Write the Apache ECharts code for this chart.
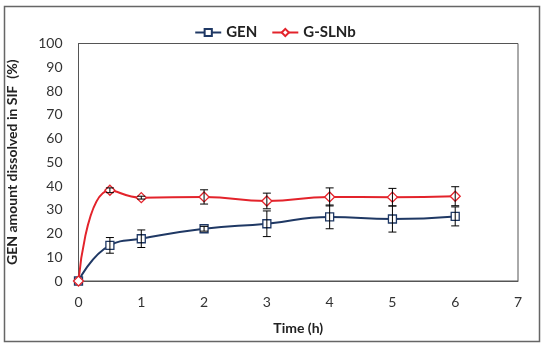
<!DOCTYPE html>
<html><head><meta charset="utf-8">
<script src="https://cdn.jsdelivr.net/npm/echarts@6/dist/echarts.min.js"></script>
<style>html,body{margin:0;padding:0;background:#fff}#c{width:550px;height:350px}</style>
</head><body><div id="c"></div>
<script>
const time = [0, 0.5, 1, 2, 3, 4, 5, 6];
const genValues = [0, 15.0, 17.8, 22.0, 24.1, 27.0, 26.1, 27.2];
const genErrors = [0, 3.3, 3.7, 1.0, 5.4, 5.0, 5.5, 4.0];
const slnValues = [0, 38.2, 35.1, 35.4, 33.7, 35.4, 35.3, 35.7];
const slnErrors = [0, 1.0, 0.6, 3.0, 3.3, 3.8, 3.7, 4.0];
const seriesNames = ['GEN', 'G-SLNb'];
const xTicks = [0, 1, 2, 3, 4, 5, 6, 7];
const yTicks = [0, 10, 20, 30, 40, 50, 60, 70, 80, 90, 100];

const navy = '#1f3864', red = '#e3232b';
const font = 'Lato, "Open Sans", sans-serif';

function errData(vals, errs) {
  return time.map((t, i) => [t, vals[i] - errs[i], vals[i] + errs[i]]);
}
function errRender(params, api) {
  const x = api.value(0);
  const lo = api.coord([x, api.value(1)]);
  const hi = api.coord([x, api.value(2)]);
  if (Math.abs(lo[1] - hi[1]) < 0.5) return null;
  const w = 4;
  const st = { stroke: '#000', lineWidth: 1 };
  return { type: 'group', children: [
    { type: 'line', shape: { x1: lo[0], y1: lo[1], x2: hi[0], y2: hi[1] }, style: st },
    { type: 'line', shape: { x1: lo[0] - w, y1: lo[1], x2: lo[0] + w, y2: lo[1] }, style: st },
    { type: 'line', shape: { x1: hi[0] - w, y1: hi[1], x2: hi[0] + w, y2: hi[1] }, style: st }
  ]};
}

const chart = echarts.init(document.getElementById('c'));
chart.setOption({
  animation: false,
  backgroundColor: '#fff',
  graphic: [{
    type: 'rect', shape: { x: 4.5, y: 6.5, width: 535, height: 335 },
    style: { fill: 'none', stroke: '#666', lineWidth: 1.5 }, z: 100, silent: true
  }],
  legend: {
    data: seriesNames,
    top: 20, left: 'center',
    itemWidth: 26, itemHeight: 9, itemGap: 14,
    textStyle: { fontFamily: font, fontWeight: 'bold', fontSize: 15, color: '#222' }
  },
  grid: { left: 78.5, right: 32, top: 43.5, bottom: 69, show: true, borderColor: '#555', borderWidth: 1,
    containLabel: false, outerBoundsMode: 'none' },
  xAxis: {
    type: 'value', min: 0, max: 7, interval: 1,
    name: 'Time (h)', nameLocation: 'middle', nameGap: 40,
    nameTextStyle: { fontFamily: font, fontWeight: 'bold', fontSize: 14, color: '#222' },
    axisLine: { show: true, lineStyle: { color: '#555' } },
    axisTick: { show: false },
    splitLine: { show: false },
    axisLabel: { fontFamily: font, fontSize: 14, color: '#333', margin: 14,
      formatter: v => xTicks.includes(v) ? String(v) : '' }
  },
  yAxis: {
    type: 'value', min: 0, max: 100, interval: 10,
    name: 'GEN amount dissolved in SIF  (%)', nameLocation: 'middle', nameGap: 59, nameRotate: 90,
    nameTextStyle: { fontFamily: font, fontWeight: 'bold', fontSize: 14, color: '#222' },
    axisLine: { show: true, lineStyle: { color: '#555' } },
    axisTick: { show: false },
    splitLine: { show: false },
    axisLabel: { fontFamily: font, fontSize: 14, color: '#333', margin: 16,
      formatter: v => yTicks.includes(v) ? String(v) : '' }
  },
  series: [
    {
      name: seriesNames[0], type: 'line', smooth: 0.5,
      data: time.map((t, i) => [t, genValues[i]]),
      symbol: 'rect', symbolSize: 8, showAllSymbol: true,
      lineStyle: { color: navy, width: 2 },
      itemStyle: { color: '#fff', borderColor: navy, borderWidth: 1.3 },
      z: 3
    },
    {
      name: seriesNames[1], type: 'line', smooth: 0.5,
      data: time.map((t, i) => [t, slnValues[i]]),
      symbol: 'diamond', symbolSize: 10, showAllSymbol: true,
      lineStyle: { color: red, width: 2 },
      itemStyle: { color: '#fff', borderColor: red, borderWidth: 1.3 },
      z: 3
    },
    { type: 'custom', renderItem: errRender, data: errData(genValues, genErrors), z: 5, silent: true },
    { type: 'custom', renderItem: errRender, data: errData(slnValues, slnErrors), z: 5, silent: true }
  ]
});
</script></body></html>
